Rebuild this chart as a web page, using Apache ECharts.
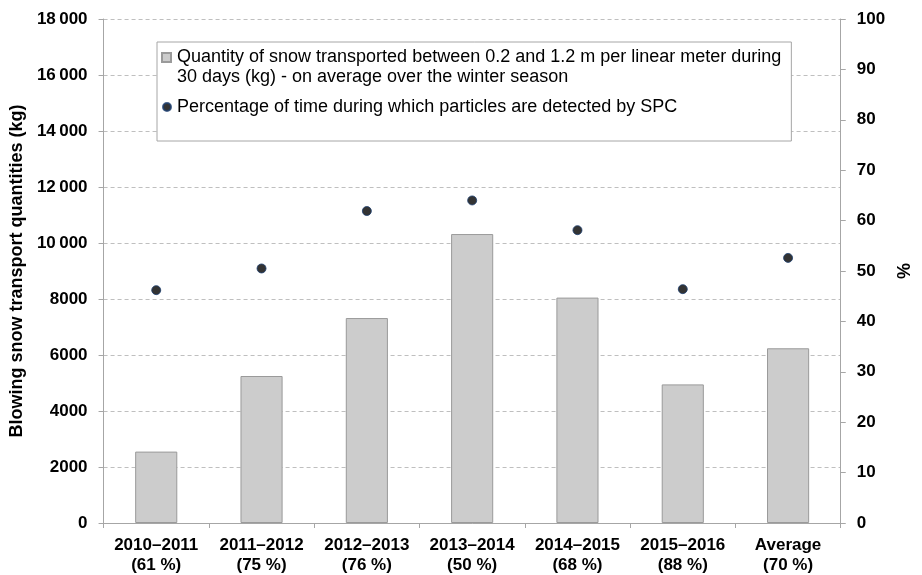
<!DOCTYPE html>
<html>
<head>
<meta charset="utf-8">
<script src="https://cdn.jsdelivr.net/npm/echarts@6/dist/echarts.min.js"></script>
<style>
html,body{margin:0;padding:0;background:#fff;}
#c{width:922px;height:575px;}
</style>
</head>
<body>
<div id="c"></div>
<script>
const categories = ['2010–2011\n(61 %)', '2011–2012\n(75 %)', '2012–2013\n(76 %)', '2013–2014\n(50 %)', '2014–2015\n(68 %)', '2015–2016\n(88 %)', 'Average\n(70 %)'];
const snowQuantity = [2550, 5250, 7320, 10320, 8050, 4950, 6240];
const detectionPct = [46.2, 50.5, 61.9, 64.0, 58.1, 46.4, 52.6];
const leftTicks = { min: 0, max: 18000, interval: 2000 };
const rightTicks = { min: 0, max: 100, interval: 10 };
const barName = 'Quantity of snow transported between 0.2 and 1.2 m per linear meter during\n30 days (kg) - on average over the winter season';
const dotName = 'Percentage of time during which particles are detected by SPC';

const FONT = '"Liberation Sans", Arial, sans-serif';
const chart = echarts.init(document.getElementById('c'), null, { renderer: 'canvas' });

function fmtThousands(v) {
  if (v >= 10000) {
    const s = String(v);
    return s.slice(0, s.length - 3) + '\u2009' + s.slice(s.length - 3);
  }
  return String(v);
}

// legend icons: square / circle placed at the top of a 10x30 box so they line up with the first text line
const squareIcon = 'path://M0,1H9V10H0Z M0,0L0,0 M10,30L10,30';
const circleIcon = 'path://M9,15A4,4 0 1,1 1,15A4,4 0 1,1 9,15Z M0,0L0,0 M10,30L10,30';

chart.setOption({
  animation: false,
  backgroundColor: '#ffffff',
  grid: { left: 99, right: 58, top: 19, bottom: 52, containLabel: false },
  legend: {
    orient: 'vertical',
    left: 157,
    top: 42,
    padding: [5, 10, 18, 4],
    itemGap: 4,
    itemWidth: 10,
    itemHeight: 30,
    backgroundColor: '#ffffff',
    borderColor: '#a6a6a6',
    borderWidth: 1,
    borderRadius: 0,
    selectedMode: false,
    textStyle: { fontFamily: FONT, fontSize: 18, color: '#000', lineHeight: 20 },
    data: [
      { name: barName, icon: squareIcon },
      { name: dotName, icon: circleIcon }
    ]
  },
  xAxis: {
    type: 'category',
    data: categories,
    boundaryGap: true,
    axisLine: { show: true, lineStyle: { color: '#a6a6a6', width: 1 } },
    axisTick: { show: true, alignWithLabel: false, length: 5, lineStyle: { color: '#a6a6a6' } },
    axisLabel: {
      fontFamily: FONT, fontSize: 17, fontWeight: 'bold', color: '#000',
      lineHeight: 20, margin: 12, interval: 0
    },
    splitLine: { show: false }
  },
  yAxis: [
    {
      type: 'value',
      min: leftTicks.min, max: leftTicks.max, interval: leftTicks.interval,
      position: 'left',
      name: 'Blowing snow transport quantities (kg)',
      nameLocation: 'middle',
      nameRotate: 90,
      nameGap: 70,
      nameTextStyle: { fontFamily: FONT, fontSize: 18, fontWeight: 'bold', color: '#000' },
      axisLine: { show: true, lineStyle: { color: '#a6a6a6', width: 1 } },
      axisTick: { show: true, length: 5, lineStyle: { color: '#a6a6a6' } },
      axisLabel: {
        fontFamily: FONT, fontSize: 17, fontWeight: 'bold', color: '#000', margin: 16,
        formatter: fmtThousands
      },
      splitLine: { show: true, lineStyle: { color: '#bfbfbf', type: [4, 3], width: 1 } }
    },
    {
      type: 'value',
      min: rightTicks.min, max: rightTicks.max, interval: rightTicks.interval,
      position: 'right',
      name: '%',
      nameLocation: 'middle',
      nameRotate: 90,
      nameGap: 42,
      nameTextStyle: { fontFamily: FONT, fontSize: 18, fontWeight: 'bold', color: '#000' },
      axisLine: { show: true, lineStyle: { color: '#a6a6a6', width: 1 } },
      axisTick: { show: true, length: 5, lineStyle: { color: '#a6a6a6' } },
      axisLabel: {
        fontFamily: FONT, fontSize: 17, fontWeight: 'bold', color: '#000', margin: 16
      },
      splitLine: { show: false }
    }
  ],
  series: [
    {
      name: barName,
      type: 'bar',
      yAxisIndex: 0,
      data: snowQuantity,
      barWidth: '40%',
      itemStyle: { color: '#cccccc', borderColor: '#9a9a9a', borderWidth: 1 }
    },
    {
      name: dotName,
      type: 'scatter',
      yAxisIndex: 1,
      data: detectionPct,
      symbol: 'circle',
      symbolSize: 9,
      itemStyle: { color: '#000000', borderColor: '#1c3d6e', borderWidth: 1 }
    }
  ]
});
</script>
</body>
</html>
